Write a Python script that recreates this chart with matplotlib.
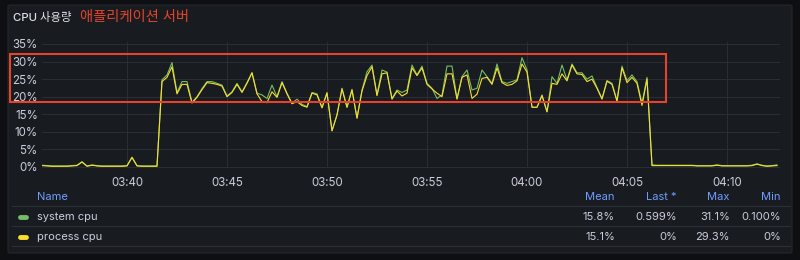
import numpy as np
import pandas as pd
import matplotlib
matplotlib.use('Agg')
import matplotlib.pyplot as plt
import matplotlib.dates as mdates
from matplotlib.patches import Rectangle, FancyBboxPatch
from matplotlib.lines import Line2D

# ---- data (15 s samples) ----
day = "2024-01-01 "
idle_before_system = [0.5, 0.4, 0.3, 0.3, 0.3, 0.3, 0.4, 0.5, 1.5, 0.3, 0.6, 0.4,
                      0.3, 0.3, 0.3, 0.3, 0.3, 0.4, 2.8, 0.4, 0.3, 0.3, 0.3, 0.3]
idle_before_process = [0.4, 0.3, 0.2, 0.2, 0.2, 0.2, 0.3, 0.4, 1.4, 0.2, 0.5, 0.3,
                       0.2, 0.2, 0.2, 0.2, 0.2, 0.3, 2.7, 0.3, 0.2, 0.2, 0.2, 0.2]

load_system = [24.8, 26.2, 29.7, 21.2, 24.3, 24.3, 18.4, 20.0, 22.3, 24.3,
               24.3, 23.8, 23.3, 20.2, 21.4, 23.8, 21.4, 24.0, 26.8, 21.0,
               20.5, 19.5, 23.3, 20.0, 24.3, 21.0, 18.1, 19.3, 17.8, 17.2,
               21.2, 20.8, 17.0, 21.2, 10.3, 14.8, 22.4, 17.0, 22.1, 13.9,
               21.9, 27.1, 29.0, 20.5, 27.6, 27.0, 19.5, 21.9, 21.2, 21.9,
               29.0, 26.2, 28.7, 23.8, 22.4, 19.5, 20.5, 28.7, 28.7, 19.5,
               25.7, 27.6, 21.9, 22.4, 27.6, 25.7, 23.8, 29.3, 24.3, 23.8,
               24.3, 24.8, 31.1, 27.6, 17.0, 17.0, 20.5, 15.7, 25.7, 23.8,
               29.0, 24.8, 29.3, 26.8, 26.8, 25.0, 25.9, 22.6, 19.5, 24.6,
               23.8, 18.9, 28.7, 24.6, 26.2, 24.3, 18.1, 25.5]
load_process = [24.3, 25.5, 28.5, 20.8, 23.5, 23.5, 18.2, 19.8, 22.0, 24.0,
                23.8, 23.5, 23.0, 20.0, 21.2, 23.5, 21.2, 23.8, 26.8, 20.8,
                18.6, 18.3, 21.4, 19.8, 24.0, 20.8, 18.0, 18.6, 17.5, 17.0,
                21.0, 20.5, 16.8, 21.0, 10.3, 14.8, 22.2, 17.0, 21.9, 13.9,
                21.6, 26.0, 28.5, 20.3, 26.5, 26.8, 19.3, 21.6, 20.2, 21.0,
                28.2, 26.0, 28.2, 23.5, 22.2, 21.0, 20.0, 26.5, 26.5, 19.3,
                25.5, 26.2, 19.5, 20.7, 25.2, 25.5, 23.5, 28.2, 24.0, 23.2,
                23.5, 24.5, 29.3, 27.0, 17.0, 17.0, 20.3, 15.7, 23.8, 23.5,
                26.5, 24.5, 29.0, 26.5, 26.3, 24.3, 25.0, 22.4, 19.3, 24.4,
                23.5, 18.7, 28.2, 24.0, 25.5, 23.8, 17.5, 25.0]

idle_after_system = [0.6, 0.5, 0.5, 0.5, 0.5, 0.5, 0.5, 0.5, 0.5, 0.4, 0.4, 0.4, 0.4,
                     0.6, 0.4, 0.4, 0.4, 0.4, 0.4, 0.4, 0.5, 0.9, 0.5, 0.3, 0.4, 0.6]
idle_after_process = [0.4, 0.4, 0.4, 0.4, 0.4, 0.4, 0.4, 0.4, 0.4, 0.3, 0.3, 0.3, 0.3,
                      0.5, 0.3, 0.3, 0.3, 0.3, 0.3, 0.3, 0.4, 0.8, 0.4, 0.2, 0.3, 0.4]

system_cpu = idle_before_system + load_system + idle_after_system
process_cpu = idle_before_process + load_process + idle_after_process
times = pd.date_range(day + "03:35:45", periods=len(system_cpu), freq="15s")

series_names = ["system cpu", "process cpu"]
series_colors = ["#73bf69", "#fade2a"]
stat_headers = ["Mean", "Last *", "Max", "Min"]
stats = [["15.8%", "0.599%", "31.1%", "0.100%"],
         ["15.1%", "0%", "29.3%", "0%"]]

# ---- style ----
BG_OUT = "#0e0f12"
BG = "#181b1f"
TXT = "#ccccdc"
BLUE = "#6e9fff"
GRID = "#2a2d33"
RED = "#e5432b"
FONT = ["Inter", "Noto Sans CJK KR", "DejaVu Sans"]
plt.rcParams['font.family'] = FONT

W, H = 800, 260
fig = plt.figure(figsize=(8, 2.6), dpi=100, facecolor=BG_OUT)

def fx(px):
    return px / W

def fy(py):
    return 1 - py / H

panel = FancyBboxPatch((fx(8), fy(253)), fx(784), 248 / H,
                       boxstyle="round,pad=0,rounding_size=0.004",
                       transform=fig.transFigure, facecolor=BG,
                       edgecolor="#24262c", lw=0.8, zorder=-5)
fig.add_artist(panel)

# plot area
ax = fig.add_axes([fx(42), fy(168.4), fx(780 - 42), (168.4 - 42.2) / H])
ax.set_facecolor("none")
ax.plot(times, system_cpu, color=series_colors[0], lw=0.8)
ax.plot(times, process_cpu, color=series_colors[1], lw=0.8)

ax.set_ylim(-0.4, 35.5)
ax.set_xlim(pd.Timestamp(day + "03:35:45"), pd.Timestamp(day + "04:12:39"))
ax.set_yticks(np.arange(0, 36, 5))
ax.set_yticklabels([f"{v}%" for v in range(0, 36, 5)])
ax.xaxis.set_major_locator(mdates.MinuteLocator(byminute=range(0, 60, 5)))
ax.xaxis.set_major_formatter(mdates.DateFormatter("%H:%M"))
ax.grid(True, color=GRID, lw=0.8)
ax.set_axisbelow(True)
for s in ax.spines.values():
    s.set_visible(False)
ax.tick_params(axis="both", length=0, colors=TXT, labelsize=8.3)
ax.tick_params(axis="y", pad=3)
ax.tick_params(axis="x", pad=6)

# titles
fig.text(fx(13), fy(18), "CPU 사용량", color="#e0e0ea", fontsize=8.2, fontweight="medium",
         va="center", ha="left")
fig.text(fx(80), fy(17.5), "애플리케이션 서버", color=RED, fontsize=10.3, va="center", ha="left")

# red highlight box
fig.add_artist(Rectangle((fx(10), fy(102.5)), fx(656), 48.5 / H, fill=False,
                         edgecolor=RED, lw=1.5, transform=fig.transFigure, zorder=5))

# legend table
header_y = 196.5
row_ys = [216.5, 236.5]
stat_right = [615, 677, 730, 781]
fig.text(fx(37), fy(header_y), "Name", color=BLUE, fontsize=8, va="center", ha="left")
for x, h in zip(stat_right, stat_headers):
    fig.text(fx(x), fy(header_y), h, color=BLUE, fontsize=8, va="center", ha="right")
for ly in [206, 226, 246]:
    fig.add_artist(Line2D([fx(12), fx(790)], [fy(ly), fy(ly)], color="#2c2f36",
                          lw=0.8, transform=fig.transFigure))
for name, col, vals, ry in zip(series_names, series_colors, stats, row_ys):
    fig.add_artist(Line2D([fx(20), fx(26)], [fy(ry), fy(ry)], color=col, lw=3.5,
                          solid_capstyle="round", transform=fig.transFigure))
    fig.text(fx(37), fy(ry), name, color=TXT, fontsize=8, va="center", ha="left")
    for x, v in zip(stat_right, vals):
        fig.text(fx(x), fy(ry), v, color=TXT, fontsize=8, va="center", ha="right")

fig.savefig("out.png", dpi=100, facecolor=BG_OUT)
